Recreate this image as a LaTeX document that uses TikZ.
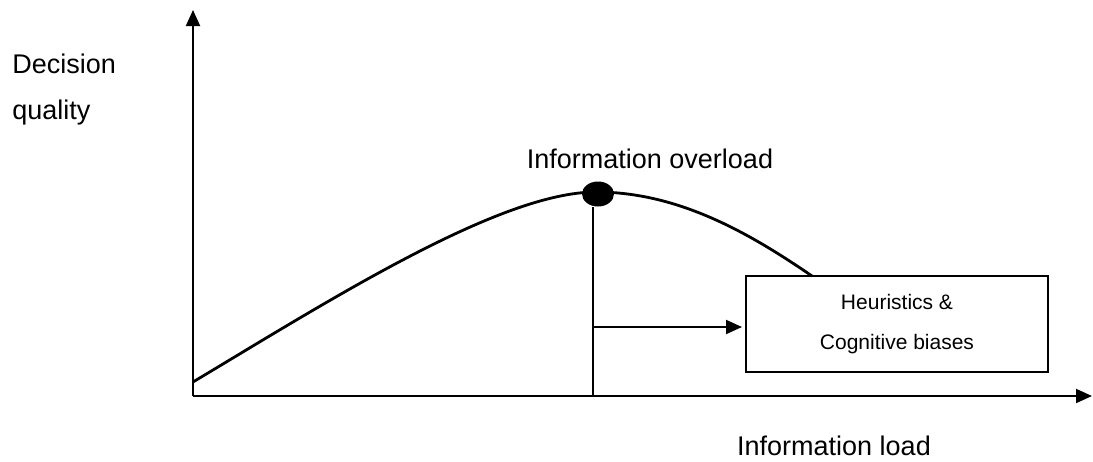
\documentclass[tikz,border=0pt]{standalone}
\usepackage{fontspec}
\setmainfont{Liberation Sans}
\usetikzlibrary{arrows.meta,shapes.geometric}
\begin{document}
\begin{tikzpicture}[x=0.5pt,y=-0.5pt]
% Frame
\useasboundingbox (0,0) rectangle (1093,461);

\tikzstyle{axis} = [line width=1pt, -{Triangle[length=8pt,width=7pt]}]
\tikzstyle{lbl} = [inner sep=0pt, font=\fontsize{13.5}{13.5}\selectfont]
\tikzstyle{boxtxt} = [draw, shape=rectangle, line width=1pt, minimum width=151pt, minimum height=48pt, align=center, font=\fontsize{10.5}{20}\selectfont]
\tikzstyle{peakdot} = [shape=ellipse, fill=black, minimum width=16pt, minimum height=12.5pt, inner sep=0pt]

\coordinate (o) at (193,396);
\coordinate (ytip) at (193,10);
\coordinate (xtip) at (1092,396);

\draw[axis] (o) -- (ytip);
\draw[axis] (o) -- (xtip);

\node[lbl, anchor=base west] (dec) at (12,73) {Decision};
\node[lbl, anchor=base west] (qual) at (12,119) {quality};
\node[lbl, anchor=base] (ovl) at (650,168) {Information overload};
\node[lbl, anchor=base] (load) at (834,455) {Information load};

\node at (897,324)[boxtxt] (heur) {Heuristics \&\\Cognitive biases};

% curve
\coordinate (start) at (193,382);
\coordinate (top) at (596,192);
\coordinate (stop) at (812,276);
\draw[line width=1.4pt] (start) .. controls (330,300) and (500,192) .. (top)
   .. controls (680,192) and (752,235) .. (stop);

\node at (598,194)[peakdot] (peak) {};

\coordinate (foot) at (593,396);
\coordinate (mid) at (593,327);
\draw[line width=1pt] (peak.south -| foot) -- (foot);
\draw[line width=1pt, -{Triangle[length=8pt,width=7pt]}, shorten >=1.5pt] (mid) -- (mid -| heur.west);

\end{tikzpicture}
\end{document}
